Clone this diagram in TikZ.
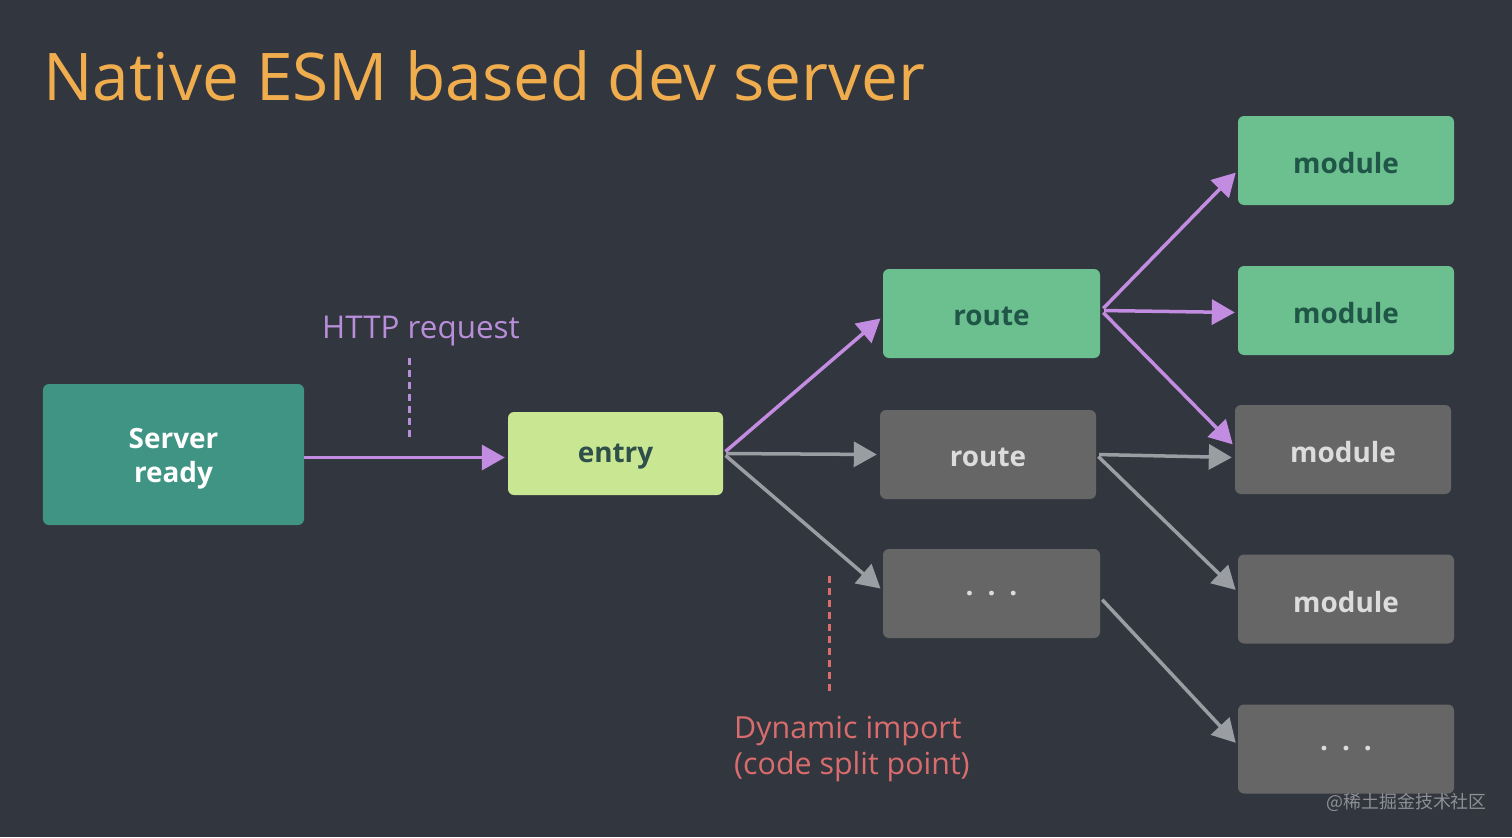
\documentclass[tikz,border=0pt]{standalone}
\usepackage{fontspec}
\setmainfont{Open Sans}
\newfontfamily\cjkfont{Noto Sans CJK SC}
\usetikzlibrary{arrows.meta,calc}
\definecolor{bgc}{HTML}{32363F}
\definecolor{titlec}{HTML}{F0AD4E}
\definecolor{purp}{HTML}{C28CE0}
\definecolor{purptxt}{HTML}{B98ED9}
\definecolor{grayarr}{HTML}{9A9EA3}
\definecolor{tealc}{HTML}{3F9484}
\definecolor{limec}{HTML}{C9E693}
\definecolor{greenc}{HTML}{6CBF8F}
\definecolor{boxgray}{HTML}{666666}
\definecolor{greentxt}{HTML}{1F5647}
\definecolor{entrytxt}{HTML}{2F4F4A}
\definecolor{graytxt}{HTML}{DCDCDC}
\definecolor{redc}{HTML}{D96C6C}
\definecolor{wmc}{HTML}{8E9096}
\newcommand{\dn}[1]{\raisebox{-3bp}[\height][\depth]{#1}}
\begin{document}
\begin{tikzpicture}[x=1bp,y=-1bp,
  box/.style={rounded corners=6bp, inner sep=0pt, minimum width=216bp, minimum height=89bp,
    font=\fontsize{28}{34}\selectfont\bfseries},
  gbox/.style={box, fill=greenc, text=greentxt},
  xbox/.style={box, fill=boxgray, text=graytxt},
  arr/.style={line width=3.5bp, -{Triangle[length=23bp,width=25bp]}, shorten <=3bp, shorten >=3bp},
  parr/.style={arr, draw=purp},
  garr/.style={arr, draw=grayarr},
  dline/.style={line width=3bp, dash pattern=on 7bp off 5bp}
]
\fill[bgc] (0,0) rectangle (1512,837);
\useasboundingbox (0,0) rectangle (1512,837);

\node[anchor=base west, inner sep=0pt, text=titlec, font=\fontsize{66}{70}\selectfont] (title) at (43,100) {Native ESM based dev server};

\node[box, fill=tealc, text=white, minimum width=261bp, minimum height=141bp,
  font=\fontsize{28}{35}\selectfont\bfseries] (srv) at (173.5,454.5)
  {\raisebox{-4bp}[\height][\depth]{\begin{tabular}{@{}c@{}}Server\\ready\end{tabular}}};
\node[box, fill=limec, text=entrytxt, minimum width=215bp, minimum height=83bp] (entry) at (615.5,453.5) {\dn{entry}};
\node[gbox, minimum width=217bp] (rG) at (991.5,313.5) {\dn{route}};
\node[xbox] (rY) at (988,454.5) {\dn{route}};
\node[xbox, minimum width=217bp] (dY) at (991.5,593.5) {.\,\,\,.\,\,\,.};
\node[gbox] (m1) at (1346,160.5) {\dn{module}};
\node[gbox] (m2) at (1346,310.5) {\dn{module}};
\node[xbox] (m3) at (1343,449.5) {\dn{module}};
\node[xbox] (m4) at (1346,599) {\dn{module}};
\node[xbox] (m5) at (1346,749) {.\,\,\,.\,\,\,.};

% arrows
\draw[parr, shorten <=0pt] ($(srv.east)+(0,3)$) -- ($(entry.west)+(0,4)$);
\draw[parr] (entry.east) -- ($(rG.west)+(0,3)$);
\draw[garr] (entry.east) -- (rY.west);
\draw[garr] (entry.east) -- ($(dY.west)+(0,-3)$);
\draw[parr] ($(rG.east)+(1,-3)$) -- ($(m1.west)+(0,10)$);
\draw[parr] ($(rG.east)+(1,-3)$) -- ($(m2.west)+(0,2)$);
\draw[parr] ($(rG.east)+(1,-3)$) -- ($(m3.west)+(0,-3)$);
\draw[garr] (rY.east) -- ($(m3.west)+(0,8)$);
\draw[garr] (rY.east) -- ($(m4.west)+(0,-7)$);
\draw[garr] ($(dY.east)+(0,4)$) -- ($(m5.west)+(0,-4)$);

% labels
\node[anchor=base west, inner sep=0pt, text=purptxt, font=\fontsize{31.5}{36}\selectfont] (http) at (322,338) {HTTP request};
\coordinate (h1) at (409,358);
\coordinate (h2) at (409,442);
\draw[dline, purptxt] (h1) -- (h2);

\coordinate (d1) at (829,576);
\coordinate (d2) at (829,694);
\draw[dline, redc] (d1) -- (d2);
\node[anchor=north west, inner sep=0pt, align=left, text=redc, font=\fontsize{30.5}{36}\selectfont] (dyn) at (734,716) {Dynamic import\\(code split point)};

\node[anchor=base east, inner sep=0pt, text=wmc, font=\cjkfont\fontsize{18}{20}\selectfont] (wm) at (1487,808) {@稀土掘金技术社区};
\end{tikzpicture}
\end{document}
